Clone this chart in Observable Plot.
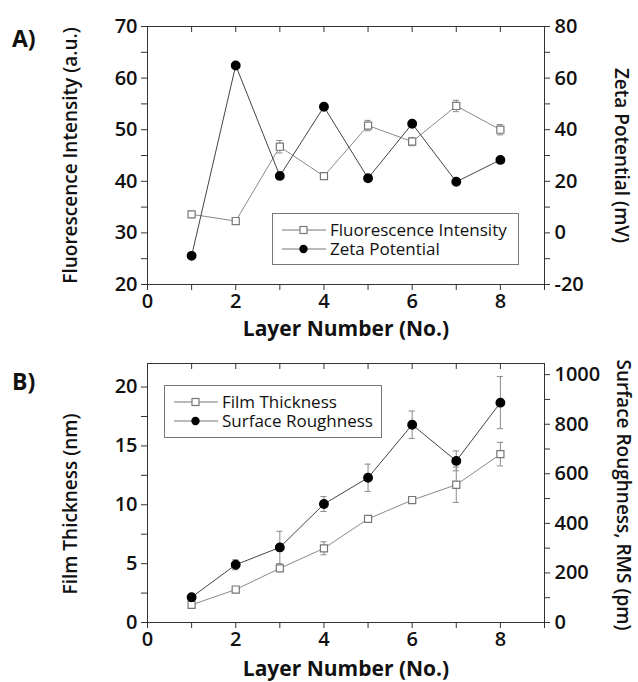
<!DOCTYPE html>
<html><head><meta charset="utf-8">
<script src="https://cdn.jsdelivr.net/npm/d3@7"></script>
<script src="https://cdn.jsdelivr.net/npm/@observablehq/plot@0.6"></script>
<style>
body{margin:0;background:#fff;font-family:"Open Sans",sans-serif;}
#wrap{position:relative;width:638px;height:682px;overflow:hidden;}
.layer{position:absolute;left:0;overflow:visible;}
.plabel{position:absolute;left:12px;font-weight:700;font-size:23px;line-height:1;color:#111;}
.legend{position:absolute;border:1px solid #777;background:#fff;font-size:17px;line-height:18px;color:#111;box-sizing:border-box;padding-top:6px;}
.legend .row{display:flex;align-items:center;height:19px;white-space:nowrap;}
.legend .row span{line-height:18px;}
.legend svg{margin:0 4px 0 9px;}
</style></head>
<body><div id="wrap"></div>
<script>
// ---------- data ----------
const layers = [1, 2, 3, 4, 5, 6, 7, 8];
const fluorescence = [33.6, 32.3, 46.7, 41.0, 50.8, 47.7, 54.6, 50.0];
const fluorescenceErr = [0.4, 0.3, 1.2, 0.4, 1.0, 0.8, 1.1, 1.0];
const zeta = [-8.9, 64.9, 22.1, 48.9, 21.2, 42.3, 19.8, 28.3];
const thickness = [1.5, 2.8, 4.6, 6.3, 8.8, 10.4, 11.7, 14.3];
const thicknessErr = [0.25, 0.2, 0.15, 0.55, 0.1, 0.1, 1.5, 1.0];
const roughness = [102, 233, 303, 478, 584, 798, 652, 887];
const roughnessErr = [8, 20, 65, 30, 55, 55, 40, 105];

const xTicks = [0, 2, 4, 6, 8];
const xMinor = [1, 3, 5, 7, 9];
const aLeftTicks = [20, 30, 40, 50, 60, 70];
const aLeftMinor = [25, 35, 45, 55, 65];
const aRightTicks = [-20, 0, 20, 40, 60, 80];
const aRightMinor = [-10, 10, 30, 50, 70];
const bLeftTicks = [0, 5, 10, 15, 20];
const bLeftMinor = [2.5, 7.5, 12.5, 17.5];
const bRightTicks = [0, 200, 400, 600, 800, 1000];
const bRightMinor = [100, 300, 500, 700, 900];

const rows = (vals, errs) => layers.map((x, i) => ({x, y: vals[i], e: errs ? errs[i] : 0}));

const W = 638, ML = 147, MR = 94;
const AX = "#333";
const tickFont = {fontSize: 20, fontWeight: 600, tickFormat: d => String(d)};
const blank = () => "";

function errMarks(data, color) {
  const d = data.filter(r => r.e > 0);
  return [
    Plot.ruleX(d, {x: "x", y1: r => r.y - r.e, y2: r => r.y + r.e, stroke: color, strokeWidth: 1}),
    Plot.ruleY(d, {y: r => r.y - r.e, x1: r => r.x - 0.07, x2: r => r.x + 0.07, stroke: color}),
    Plot.ruleY(d, {y: r => r.y + r.e, x1: r => r.x - 0.07, x2: r => r.x + 0.07, stroke: color})
  ];
}

function leftPlot({height, mt, mb, domain, ticks, minor, label, labelDy, data, xlabelDy}) {
  return Plot.plot({
    width: W, height, marginLeft: ML, marginRight: MR, marginTop: mt, marginBottom: mb,
    style: {background: "transparent", fontFamily: "Open Sans, sans-serif", color: "#111", overflow: "visible"},
    x: {domain: [0, 9]},
    y: {domain},
    marks: [
      Plot.frame({stroke: AX}),
      Plot.axisY(ticks, {anchor: "left", tickSize: 6, tickPadding: 4, label: null, stroke: AX, ...tickFont}),
      Plot.axisY(minor, {anchor: "left", tickSize: 6, tickFormat: blank, label: null, stroke: AX}),
      Plot.axisX(xTicks, {anchor: "bottom", tickSize: 6, tickPadding: 3, label: null, stroke: AX, ...tickFont}),
      Plot.axisX(xMinor, {anchor: "bottom", tickSize: 6, tickFormat: blank, label: null, stroke: AX}),
      Plot.axisX(layers, {anchor: "top", tickSize: -5, tickFormat: blank, label: null, stroke: AX}),
      Plot.text(["Layer Number (No.)"], {frameAnchor: "bottom", textAnchor: "middle", dy: xlabelDy, fontSize: 21, fontWeight: 700, fill: "#111"}),
      Plot.text([label], {frameAnchor: "left", textAnchor: "middle", rotate: -90, dx: -77, dy: labelDy, fontSize: 19, fontWeight: 600, fill: "#111"}),
      Plot.lineY(data, {x: "x", y: "y", stroke: "#8a8a8a", strokeWidth: 1}),
      ...errMarks(data, "#8a8a8a"),
      Plot.dot(data, {x: "x", y: "y", symbol: "square", r: 4, stroke: "#777", strokeWidth: 1.2, fill: "white"})
    ]
  });
}

function rightPlot({height, mt, mb, domain, ticks, minor, label, labelDx, labelDy, data}) {
  return Plot.plot({
    width: W, height, marginLeft: ML, marginRight: MR, marginTop: mt, marginBottom: mb,
    style: {background: "transparent", fontFamily: "Open Sans, sans-serif", color: "#111", overflow: "visible"},
    x: {domain: [0, 9], axis: null},
    y: {domain},
    marks: [
      Plot.axisY(ticks, {anchor: "right", tickSize: 5, tickPadding: 5, label: null, stroke: AX, ...tickFont}),
      Plot.axisY(minor, {anchor: "right", tickSize: 5, tickFormat: blank, label: null, stroke: AX}),
      Plot.text([label], {frameAnchor: "right", textAnchor: "middle", rotate: 90, dx: labelDx, dy: labelDy, fontSize: 19, fontWeight: 600, fill: "#111"}),
      Plot.lineY(data, {x: "x", y: "y", stroke: "#444", strokeWidth: 1}),
      ...errMarks(data, "#8a8a8a"),
      Plot.dot(data, {x: "x", y: "y", r: 4.2, fill: "#000", stroke: "#000"})
    ]
  });
}

const wrap = document.getElementById("wrap");
function place(node, top) { node.classList.add("layer"); node.style.top = top + "px"; wrap.appendChild(node); }

// Panel A
place(leftPlot({height: 340, mt: 26, mb: 56, domain: [20, 70], ticks: aLeftTicks, minor: aLeftMinor,
  label: "Fluorescence Intensity (a.u.)", labelDy: 0, data: rows(fluorescence, fluorescenceErr), xlabelDy: 51}), 0);
place(rightPlot({height: 340, mt: 26, mb: 56, domain: [-20, 80], ticks: aRightTicks, minor: aRightMinor,
  label: "Zeta Potential (mV)", labelDx: 77, labelDy: 0, data: rows(zeta)}), 0);

// Panel B
place(leftPlot({height: 342, mt: 23, mb: 60, domain: [0, 22], ticks: bLeftTicks, minor: bLeftMinor,
  label: "Film Thickness (nm)", labelDy: 11, data: rows(thickness, thicknessErr), xlabelDy: 53}), 340);
place(rightPlot({height: 342, mt: 23, mb: 60, domain: [0, 1045], ticks: bRightTicks, minor: bRightMinor,
  label: "Surface Roughness, RMS (pm)", labelDx: 79, labelDy: 2, data: rows(roughness, roughnessErr)}), 340);

// panel letters
for (const [t, y] of [["A)", 27], ["B)", 370]]) {
  const d = document.createElement("div"); d.className = "plabel"; d.textContent = t; d.style.top = y + "px"; wrap.appendChild(d);
}

// legends
function legend(items, left, top, w, h) {
  const box = document.createElement("div"); box.className = "legend";
  Object.assign(box.style, {left: left + "px", top: top + "px", width: w + "px", height: h + "px"});
  for (const it of items) {
    const row = document.createElement("div"); row.className = "row";
    const sym = it.square
      ? `<rect x="18" y="5.5" width="7" height="7" fill="white" stroke="#777" stroke-width="1.2"/>`
      : `<circle cx="21.5" cy="9" r="4.2" fill="#000"/>`;
    row.innerHTML = `<svg width="44" height="18"><line x1="0" x2="44" y1="9" y2="9" stroke="#777"/>${sym}</svg><span>${it.label}</span>`;
    box.appendChild(row);
  }
  wrap.appendChild(box);
}
legend([{label: "Fluorescence Intensity", square: true}, {label: "Zeta Potential"}], 272, 213, 247, 52);
legend([{label: "Film Thickness", square: true}, {label: "Surface Roughness"}], 164, 385, 218, 53);
</script></body></html>
